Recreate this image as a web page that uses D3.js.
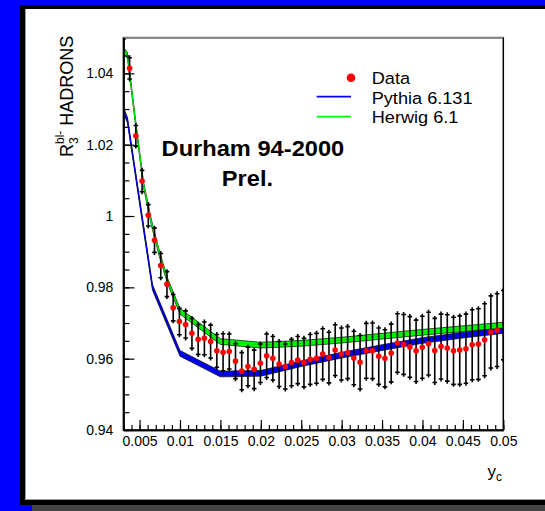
<!DOCTYPE html>
<html>
<head>
<meta charset="utf-8">
<script src="https://cdnjs.cloudflare.com/ajax/libs/d3/7.8.5/d3.min.js"></script>
<style>
  body { margin: 0; background: #0000ff; }
  svg { display: block; }
  text { font-family: "Liberation Sans", Arial, Helvetica, sans-serif; }
</style>
</head>
<body>
<svg id="chart" width="545" height="511"></svg>
<script>
//================ DATA =========================================
// measured points: y_c, R3 and total error
const yc = [
  0.00300, 0.00377, 0.00454, 0.00531, 0.00608, 0.00685, 0.00762, 0.00839, 0.00916, 0.00993,
  0.01070, 0.01148, 0.01225, 0.01302, 0.01379, 0.01456, 0.01533, 0.01610, 0.01687, 0.01764,
  0.01841, 0.01918, 0.01995, 0.02072, 0.02149, 0.02226, 0.02303, 0.02380, 0.02457, 0.02534,
  0.02611, 0.02689, 0.02766, 0.02843, 0.02920, 0.02997, 0.03074, 0.03151, 0.03228, 0.03305,
  0.03382, 0.03459, 0.03536, 0.03613, 0.03690, 0.03767, 0.03844, 0.03921, 0.03998, 0.04075,
  0.04152, 0.04230, 0.04307, 0.04384, 0.04461, 0.04538, 0.04615, 0.04692, 0.04769, 0.04846,
  0.04923, 0.05000
];
const r3 = [
  1.0560, 1.0414, 1.0225, 1.0098, 1.0002, 0.9932, 0.9861, 0.9809, 0.9743, 0.9704,
  0.9696, 0.9671, 0.9654, 0.9657, 0.9648, 0.9622, 0.9618, 0.9620, 0.9593, 0.9565,
  0.9578, 0.9570, 0.9587, 0.9608, 0.9601, 0.9585, 0.9578, 0.9589, 0.9596, 0.9589,
  0.9598, 0.9601, 0.9613, 0.9603, 0.9624, 0.9613, 0.9617, 0.9602, 0.9590, 0.9622,
  0.9622, 0.9607, 0.9601, 0.9616, 0.9644, 0.9640, 0.9633, 0.9622, 0.9632, 0.9642,
  0.9623, 0.9634, 0.9630, 0.9622, 0.9624, 0.9628, 0.9639, 0.9641, 0.9653, 0.9675,
  0.9680, 0.9694
];
const r3Err = [
  0.0071, 0.0037, 0.0036, 0.0037, 0.0037, 0.0041, 0.0041, 0.0042, 0.0044, 0.0044,
  0.0045, 0.0049, 0.0049, 0.0053, 0.0053, 0.0053, 0.0059, 0.0056, 0.0056, 0.0059,
  0.0061, 0.0061, 0.0061, 0.0068, 0.0068, 0.0070, 0.0070, 0.0072, 0.0073, 0.0075,
  0.0077, 0.0077, 0.0078, 0.0078, 0.0078, 0.0080, 0.0080, 0.0082, 0.0082, 0.0084,
  0.0085, 0.0086, 0.0087, 0.0088, 0.0089, 0.0091, 0.0092, 0.0093, 0.0094, 0.0095,
  0.0097, 0.0098, 0.0100, 0.0101, 0.0103, 0.0104, 0.0105, 0.0106, 0.0108, 0.0108,
  0.0109, 0.0104
];

// Monte Carlo predictions (band = value +- mcErr)
const herwigYc = [0.003, 0.0035, 0.0045, 0.0055, 0.0065, 0.0075, 0.0085, 0.01,
                  0.015, 0.02, 0.025, 0.03, 0.035, 0.04, 0.045, 0.05];
const herwigR3 = [1.0466, 1.0450, 1.0263, 1.0087, 0.9978, 0.9890, 0.9816, 0.9733,
                  0.9648, 0.9638, 0.9643, 0.9652, 0.9663, 0.9674, 0.9684, 0.9694];
const pythiaYc = [0.003, 0.0035, 0.0066, 0.01, 0.015, 0.02, 0.025, 0.03,
                  0.035, 0.04, 0.045, 0.05];
const pythiaR3 = [1.0297, 1.0269, 0.9800, 0.9615, 0.9557, 0.9559, 0.9586, 0.9610,
                  0.9631, 0.9651, 0.9666, 0.9679];
const mcErr = 0.0008;

// axes
const xTicks = [0.005, 0.01, 0.015, 0.02, 0.025, 0.03, 0.035, 0.04, 0.045, 0.05];
const xTickLabels = ['0.005', '0.01', '0.015', '0.02', '0.025', '0.03', '0.035', '0.04', '0.045', '0.05'];
const yTicks = [0.94, 0.96, 0.98, 1.0, 1.02, 1.04];
const yTickLabels = ['0.94', '0.96', '0.98', '1', '1.02', '1.04'];
const legendLabels = ['Data', 'Pythia 6.131', 'Herwig 6.1'];

//================ LAYOUT ========================================
const W = 545, H = 511;
const frame = { left: 123.4, right: 503.3, top: 37.7, bottom: 430 };
const textStretch = 1.1;   // legend / label text is a bit wide in the original

const svg = d3.select('#chart');

const x = d3.scaleLinear().domain([0.003, 0.05]).range([frame.left, frame.right]);
const y = d3.scaleLinear().domain([0.94, 1.05]).range([frame.bottom, frame.top]);

drawCanvas();
drawModels();
drawData();
drawAxes();
drawLabels();
drawLegend();

//------------ canvas: blue page, black border, white pad ----------
function drawCanvas() {
  svg.append('rect').attr('width', W).attr('height', H).attr('fill', '#0000ff');
  svg.append('rect')
    .attr('x', 32).attr('y', 505).attr('width', W - 32).attr('height', H - 505)
    .attr('fill', '#444');
  svg.append('rect')
    .attr('x', 20).attr('y', 5).attr('width', W - 20).attr('height', 500)
    .attr('fill', '#000');
  svg.append('rect')
    .attr('x', 25).attr('y', 9).attr('width', W - 25).attr('height', 491)
    .attr('fill', '#fff');
  svg.append('path')
    .attr('d', `M25.5,9V499.5H${W}`)
    .attr('fill', 'none').attr('stroke', '#999').attr('stroke-width', 1);

  svg.append('clipPath').attr('id', 'plotclip')
    .append('rect')
      .attr('x', frame.left).attr('y', frame.top)
      .attr('width', frame.right - frame.left)
      .attr('height', frame.bottom - frame.top);
}

//------------ MC bands ---------------------------------------------
function drawModels() {
  const g = svg.append('g').attr('clip-path', 'url(#plotclip)');
  const band = d3.area()
    .x(d => x(d[0]))
    .y0(d => y(d[1] - mcErr))
    .y1(d => y(d[1] + mcErr));
  const centre = d3.line()
    .x(d => x(d[0]))
    .y(d => y(d[1]));

  const models = [
    { pts: d3.zip(pythiaYc, pythiaR3), fill: '#0000ff', core: '#0000d0' },
    { pts: d3.zip(herwigYc, herwigR3), fill: '#00ff00', core: '#00e000' }
  ];
  models.forEach(m => {
    g.append('path')
      .datum(m.pts)
      .attr('d', band)
      .attr('fill', m.fill)
      .attr('stroke', '#000')
      .attr('stroke-width', 0.7)
      .attr('stroke-linejoin', 'round');
    g.append('path')
      .datum(m.pts)
      .attr('d', centre)
      .attr('fill', 'none')
      .attr('stroke', m.core)
      .attr('stroke-width', 1.3);
  });
}

//------------ data points with error bars -------------------------
function drawData() {
  const g = svg.append('g').attr('clip-path', 'url(#plotclip)');
  const pts = yc.map((v, i) => ({ x: v, y: r3[i], e: r3Err[i] }));
  const capIn = 2.5, capW = 2.3;

  const bars = g.selectAll('.bar').data(pts).enter().append('g').attr('class', 'bar')
    .attr('stroke', '#000').attr('stroke-width', 1.6);
  bars.append('line')
    .attr('x1', d => x(d.x)).attr('x2', d => x(d.x))
    .attr('y1', d => y(d.y + d.e)).attr('y2', d => y(d.y - d.e));
  bars.append('line')
    .attr('x1', d => x(d.x) - capW).attr('x2', d => x(d.x) + capW)
    .attr('y1', d => y(d.y + d.e) + capIn).attr('y2', d => y(d.y + d.e) + capIn);
  bars.append('line')
    .attr('x1', d => x(d.x) - capW).attr('x2', d => x(d.x) + capW)
    .attr('y1', d => y(d.y - d.e) - capIn).attr('y2', d => y(d.y - d.e) - capIn);

  // markers sitting on the frame edge are not drawn (as in the original)
  const [x0, x1] = x.domain();
  g.selectAll('.pt').data(pts.filter(d => d.x > x0 && d.x < x1)).enter()
    .append('circle').attr('class', 'pt')
    .attr('cx', d => x(d.x)).attr('cy', d => y(d.y))
    .attr('r', 2.8)
    .attr('fill', '#ff0000');
}

//------------ axes & frame -----------------------------------------
function drawAxes() {
  // frame box
  svg.append('rect')
    .attr('x', frame.left).attr('y', frame.top)
    .attr('width', frame.right - frame.left).attr('height', frame.bottom - frame.top)
    .attr('fill', 'none').attr('stroke', '#000').attr('stroke-width', 1.5);
  svg.append('line')
    .attr('x1', frame.left).attr('x2', frame.right)
    .attr('y1', frame.top).attr('y2', frame.top)
    .attr('stroke', '#888').attr('stroke-width', 1.8);

  const gxMinor = svg.append('g').attr('transform', `translate(0,${frame.bottom})`)
    .call(d3.axisBottom(x).ticks(47).tickFormat('').tickSizeInner(-5).tickSizeOuter(0));
  const gx = svg.append('g').attr('transform', `translate(0,${frame.bottom})`)
    .call(d3.axisBottom(x).tickValues(xTicks).tickFormat((d, i) => xTickLabels[i])
      .tickSizeInner(-10).tickSizeOuter(0).tickPadding(6));

  const gyMinor = svg.append('g').attr('transform', `translate(${frame.left},0)`)
    .call(d3.axisLeft(y).ticks(22).tickFormat('').tickSizeInner(-6).tickSizeOuter(0));
  const gy = svg.append('g').attr('transform', `translate(${frame.left},0)`)
    .call(d3.axisLeft(y).tickValues(yTicks).tickFormat((d, i) => yTickLabels[i])
      .tickSizeInner(-11).tickSizeOuter(0).tickPadding(10));

  [gxMinor, gx, gyMinor, gy].forEach(g => {
    g.selectAll('.domain').attr('stroke', '#000').attr('stroke-width', 1.6);
    g.selectAll('.tick line').attr('stroke', '#000').attr('stroke-width', 1.2);
    g.selectAll('text')
      .attr('font-family', '"Liberation Sans", Arial, sans-serif')
      .attr('font-size', 14)
      .attr('fill', '#000');
  });
  gyMinor.selectAll('.tick').filter(d => d >= 1.05).remove();
}

//------------ titles -------------------------------------------------
function drawLabels() {
  // y title  R_3^{bl-} HADRONS
  const yt = svg.append('text')
    .attr('transform', 'translate(72.5,157) rotate(-90)')
    .attr('font-size', 18)
    .attr('fill', '#000');
  yt.append('tspan').text('R');
  yt.append('tspan').attr('font-size', 12).attr('dy', 5).text('3');
  yt.append('tspan').attr('font-size', 12).attr('dx', -6.7).attr('dy', -13.5).text('bl-');
  yt.append('tspan').attr('dy', 8.5).attr('dx', 5).text('HADRONS');

  // x title  y_c
  const xt = svg.append('text')
    .attr('x', 502).attr('y', 476.5)
    .attr('text-anchor', 'end')
    .attr('font-size', 17)
    .attr('fill', '#000');
  xt.append('tspan').text('y');
  xt.append('tspan').attr('font-size', 12).attr('dy', 4.5).text('c');

  stretched(252.9, 156, 'Durham 94-2000', 21.5, 'bold', 'middle');
  stretched(247.4, 186, 'Prel.', 21.5, 'bold', 'middle');
}

//------------ legend --------------------------------------------------
function drawLegend() {
  const rows = [77.7, 96.7, 116.7];
  const base = [84, 103.5, 122.5];
  const g = svg.append('g');
  g.append('circle').attr('cx', 351).attr('cy', rows[0]).attr('r', 4.3).attr('fill', '#ff0000');
  g.append('line').attr('x1', 316.7).attr('x2', 351).attr('y1', rows[1]).attr('y2', rows[1])
    .attr('stroke', '#0000ff').attr('stroke-width', 1.8);
  g.append('line').attr('x1', 316.7).attr('x2', 351).attr('y1', rows[2]).attr('y2', rows[2])
    .attr('stroke', '#00ff00').attr('stroke-width', 1.8);
  legendLabels.forEach((t, i) => stretched(371.7, base[i], t, 16.5, 'normal', 'start'));
}

function stretched(px, py, str, size, weight, anchor) {
  svg.append('g')
    .attr('transform', `translate(${px},${py}) scale(${textStretch},1)`)
    .append('text')
      .attr('text-anchor', anchor)
      .attr('font-size', size)
      .attr('font-weight', weight)
      .attr('fill', '#000')
      .text(str);
}
</script>
</body>
</html>
